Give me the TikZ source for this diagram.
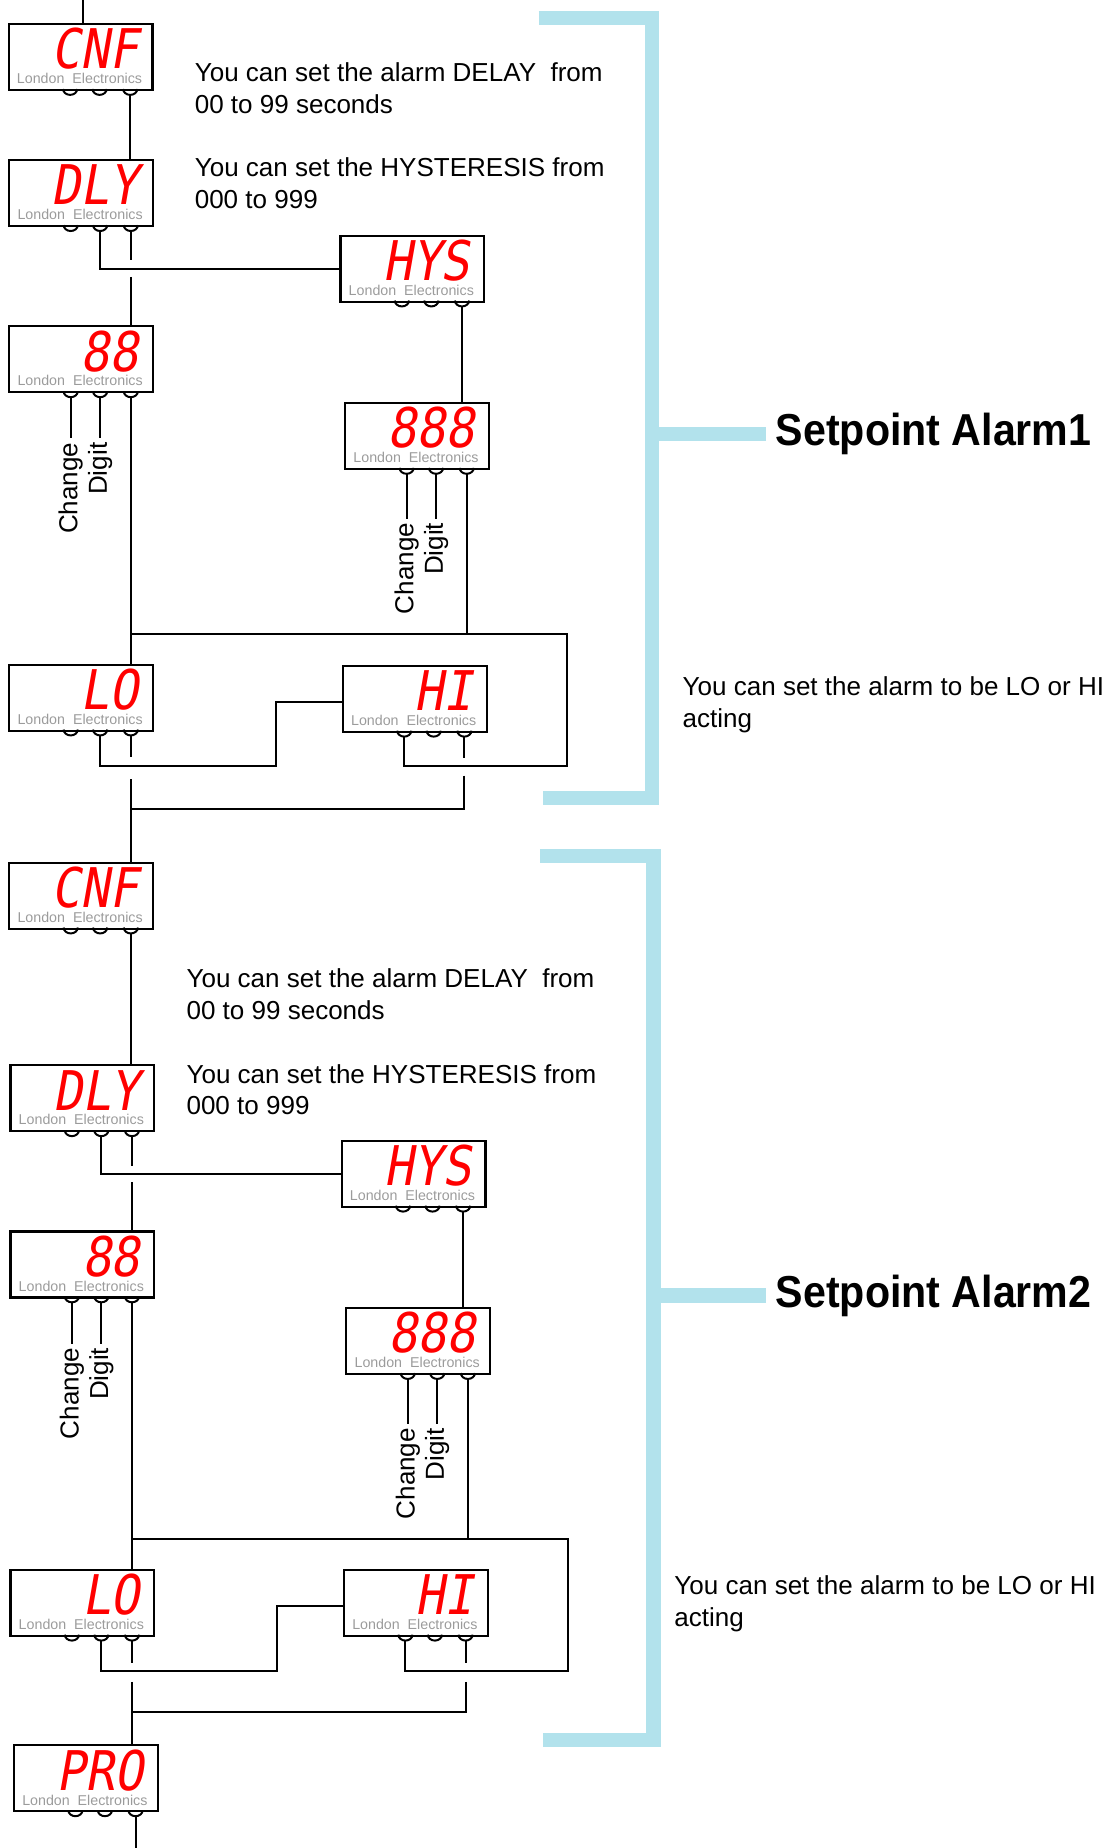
\documentclass[tikz,border=0pt]{standalone}
\usepackage{fontspec}
\setmainfont{Liberation Sans}
\newfontfamily\segfont[FakeSlant=0.2]{DejaVu Sans Mono}
\usepackage{xcolor}
\usepackage{tikz}
\usetikzlibrary{calc}
\definecolor{segred}{RGB}{255,0,0}
\definecolor{makergray}{RGB}{155,155,155}
\definecolor{alarmcyan}{RGB}{178,226,236}

\begin{document}
\begin{tikzpicture}[
  x=0.025cm, y=-0.025cm,
  font=\fontsize{15.7}{19.2}\selectfont,
  panel/.style={draw, line width=1.3pt, minimum width=3.05cm, minimum height=1.4cm, inner sep=0pt, anchor=north west},
  readout/.style={text=segred, font=\segfont\fontsize{33}{33}\selectfont, anchor=east, inner sep=0pt, xscale=0.88},
  maker/.style={text=makergray, font=\fontsize{8.6}{9}\selectfont, anchor=base, inner sep=0pt},
  wire/.style={line width=1.2pt},
  tag/.style={rotate=90, anchor=east, inner sep=2pt},
  note/.style={anchor=base west, align=left, inner sep=0pt},
  heading/.style={anchor=base west, font=\bfseries\fontsize{27}{30}\selectfont, inner sep=0pt, xscale=0.92},
  bracket/.style={draw=alarmcyan, line width=0.3cm, line join=miter},
  meter/.pic={
    \node[panel] (-box) at (0,0) {};
    \node[readout] at (111,22) {#1};
    \node[maker] at (61,51.5) {London\ \ Electronics};
    \foreach \kx [count=\i] in {53,78,104} {
      \draw[wire] (\kx-6,56) arc[start angle=180, end angle=0, x radius=6, y radius=5];
      \coordinate (-k\i) at (\kx,61);
    }
  }
]
\useasboundingbox (0,0) rectangle (948,1568);

% Setpoint Alarm1
\pic (cnfA) at (6.5,19.5) {meter=CNF};
\pic (dlyA) at (7,135) {meter=DLY};
\pic (hysA) at (288,199) {meter=HYS};
\pic (digA) at (7,276) {meter=88};
\pic (digsA) at (292,341) {meter=888};
\pic (loA) at (7,563) {meter=LO};
\pic (hiA) at (290,564) {meter=HI};
\coordinate (top) at (70.5,0);
\coordinate (busA) at (481,538);

\node[note] (delayA) at (165,96) {You can set the alarm DELAY\ \ from\\00 to 99 seconds};
\node[note] (hystA) at (165,177) {You can set the HYSTERESIS from\\000 to 999};
\node[note] (actA) at (579,617) {You can set the alarm to be LO or HI\\acting};
\node[heading] (alarmA) at (658,378) {Setpoint Alarm1};

\draw[bracket] (457,15) -- (553.5,15) -- (553.5,677) -- (461,677);
\draw[bracket] ([xshift=-0.2cm]alarmA.west) -- ++(-96,0);

\draw[wire] (top) -- (top |- cnfA-box.north);
\draw[wire] (cnfA-k3) -- (cnfA-k3 |- dlyA-box.north);
\draw[wire] (dlyA-k2) |- (hysA-box.west);
\draw[wire] (dlyA-k3) -- ($(dlyA-k3 |- hysA-box.west)+(0,-7)$);
\draw[wire] ($(dlyA-k3 |- hysA-box.west)+(0,7)$) -- (dlyA-k3 |- digA-box.north);
\draw[wire] (hysA-k3) -- (hysA-k3 |- digsA-box.north);
\draw[wire] (digA-k1) -- ++(0,35) node[tag] {Change};
\draw[wire] (digA-k2) -- ++(0,35) node[tag] {Digit};
\draw[wire] (digsA-k1) -- ++(0,38) node[tag] {Change};
\draw[wire] (digsA-k2) -- ++(0,38) node[tag] {Digit};
\draw[wire] (digA-k3) -- (digA-k3 |- loA-box.north);
\draw[wire] (digsA-k3) -- (digsA-k3 |- busA);
\draw[wire] (digA-k3 |- busA) -- (busA) -- ++(0,112) -| (hiA-k1);
\draw[wire] (loA-k2) -- ++(0,26) -- ++(149,0) |- ($(hiA-box.west)+(0,3)$);
\draw[wire] (loA-k3) -- ++(0,18);
\draw[wire] (hiA-k3) -- ++(0,18);
\draw[wire] ($(hiA-k3)+(0,33)$) |- ($(loA-k3)+(0,62)$);

% Setpoint Alarm2
\pic (cnfB) at (7,731) {meter=CNF};
\pic (dlyB) at (8,903) {meter=DLY};
\pic (hysB) at (289,967) {meter=HYS};
\pic (digB) at (8,1044) {meter=88};
\pic (digsB) at (293,1109) {meter=888};
\pic (loB) at (8,1331) {meter=LO};
\pic (hiB) at (291,1331) {meter=HI};
\pic (proC) at (11,1480) {meter=PRO};
\coordinate (busB) at (482,1306);

\node[note] (delayB) at (158,865) {You can set the alarm DELAY\ \ from\\00 to 99 seconds};
\node[note] (hystB) at (158,946) {You can set the HYSTERESIS from\\000 to 999};
\node[note] (actB) at (572,1380) {You can set the alarm to be LO or HI\\acting};
\node[heading] (alarmB) at (658,1109) {Setpoint Alarm2};

\draw[bracket] (458,726) -- (554.5,726) -- (554.5,1476) -- (461,1476);
\draw[bracket] ([xshift=-0.2cm]alarmB.west) -- ++(-96,0);

\draw[wire] ($(loA-k3)+(0,37)$) -- (loA-k3 |- cnfB-box.north);
\draw[wire] (cnfB-k3) -- (cnfB-k3 |- dlyB-box.north);
\draw[wire] (dlyB-k2) |- (hysB-box.west);
\draw[wire] (dlyB-k3) -- ($(dlyB-k3 |- hysB-box.west)+(0,-7)$);
\draw[wire] ($(dlyB-k3 |- hysB-box.west)+(0,7)$) -- (dlyB-k3 |- digB-box.north);
\draw[wire] (hysB-k3) -- (hysB-k3 |- digsB-box.north);
\draw[wire] (digB-k1) -- ++(0,35) node[tag] {Change};
\draw[wire] (digB-k2) -- ++(0,35) node[tag] {Digit};
\draw[wire] (digsB-k1) -- ++(0,38) node[tag] {Change};
\draw[wire] (digsB-k2) -- ++(0,38) node[tag] {Digit};
\draw[wire] (digB-k3) -- (digB-k3 |- loB-box.north);
\draw[wire] (digsB-k3) -- (digsB-k3 |- busB);
\draw[wire] (digB-k3 |- busB) -- (busB) -- ++(0,112) -| (hiB-k1);
\draw[wire] (loB-k2) -- ++(0,26) -- ++(149,0) |- ($(hiB-box.west)+(0,3)$);
\draw[wire] (loB-k3) -- ++(0,19);
\draw[wire] (hiB-k3) -- ++(0,19);
\draw[wire] ($(hiB-k3)+(0,35)$) |- ($(loB-k3)+(0,61)$);
\draw[wire] ($(loB-k3)+(0,35)$) -- (loB-k3 |- proC-box.north);
\draw[wire] (proC-k3) -- ++(0,30);
\end{tikzpicture}
\end{document}
